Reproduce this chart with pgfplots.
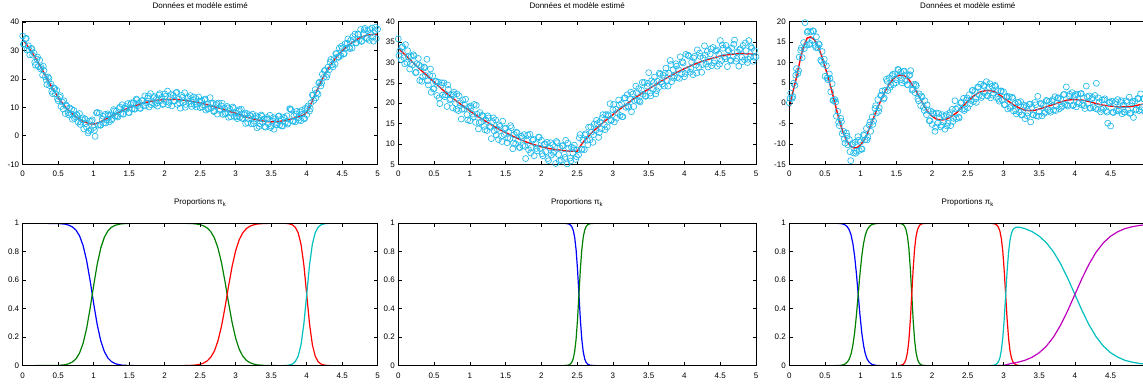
\documentclass[border=0pt]{standalone}
\usepackage{fontspec}
\setmainfont{Liberation Sans}
\usepackage{pgfplots}
\pgfplotsset{compat=1.18}
\definecolor{ptcyan}{RGB}{32,185,235}
\definecolor{mgreen}{RGB}{0,128,0}
\definecolor{mcyan}{RGB}{0,191,191}
\definecolor{mmag}{RGB}{191,0,191}
\pgfplotsset{
  mpanel/.style={scale only axis, height=142.5pt, xmin=0, xmax=5,
    xtick={0,0.5,1,1.5,2,2.5,3,3.5,4,4.5,5},
    tick align=inside, axis on top, major tick length=3.5pt,
    tick style={black, line width=0.6pt},
    axis line style={black, line width=0.8pt},
    ticklabel style={font=\fontsize{8}{9.6}\selectfont},
    xticklabel style={yshift=-3.5pt},
    /pgf/number format/assume math mode=true,
    title style={font=\fontsize{8}{9.6}\selectfont, anchor=base, at={(0.5,1)}},
  },
  datapanel/.style={mpanel, clip=false, title={Données et modèle estimé}, title style={yshift=7.7pt}},
  proppanel/.style={mpanel, ymin=0, ymax=1, ytick={0,0.2,0.4,0.6,0.8,1}, title={Proportions π\textsubscript{k}}, title style={yshift=12.6pt}},
  circ/.style={only marks, mark=o, mark size=3pt, color=ptcyan, mark options={line width=0.65pt}},
  fit/.style={red, line width=1.4pt, no marks},
  pc/.style={line width=1.2pt, no marks},
}
\begin{document}
\begin{tikzpicture}
\path[use as bounding box] (0,0) rectangle (1143pt,383pt);
% ---------------- top left
\begin{axis}[datapanel, at={(22.7pt,218.7pt)}, anchor=south west, width=355pt, ymin=-10, ymax=40, ytick={-10,0,10,20,30,40}]
\addplot[circ] table[row sep=\\] {x y\\
0 35.0\\ 0.02 32.3\\ 0.04 34.1\\ 0.06 30.1\\ 0.08 31.6\\ 0.10 28.4\\ 0.12 30.7\\ 0.14 28.3\\ 0.16 29.0\\ 0.18 24.8\\ 0.20 26.9\\ 0.22 24.3\\ 0.24 26.5\\ 0.26 24.0\\ 0.28 21.3\\ 0.30 22.9\\ 0.32 20.7\\ 0.34 18.0\\ 0.36 20.6\\ 0.38 17.6\\ 0.40 18.1\\ 0.42 14.8\\ 0.44 16.8\\ 0.46 14.7\\ 0.48 16.0\\ 0.50 12.3\\ 0.52 13.6\\ 0.54 10.3\\ 0.56 11.8\\ 0.58 12.3\\ 0.60 7.8\\ 0.62 10.4\\ 0.64 8.1\\ 0.66 9.8\\ 0.68 7.7\\ 0.70 5.8\\ 0.72 8.9\\ 0.74 6.7\\ 0.76 7.5\\ 0.78 4.8\\ 0.80 7.8\\ 0.82 4.8\\ 0.84 5.6\\ 0.86 2.4\\ 0.88 5.9\\ 0.90 3.0\\ 0.92 1.0\\ 0.94 5.2\\ 0.96 2.1\\ 0.98 5.6\\ 1.00 2.9\\ 1.02 -0.2\\ 1.04 8.0\\ 1.06 3.7\\ 1.08 7.9\\ 1.10 3.7\\ 1.12 5.8\\ 1.14 4.5\\ 1.16 7.5\\ 1.18 5.5\\ 1.20 7.7\\ 1.22 4.9\\ 1.24 7.1\\ 1.26 6.0\\ 1.28 9.2\\ 1.30 7.0\\ 1.32 8.6\\ 1.34 6.6\\ 1.36 9.6\\ 1.38 7.7\\ 1.40 10.9\\ 1.42 7.6\\ 1.44 9.7\\ 1.46 9.3\\ 1.48 11.3\\ 1.50 8.1\\ 1.52 11.0\\ 1.54 9.5\\ 1.56 11.6\\ 1.58 9.3\\ 1.60 12.9\\ 1.62 10.5\\ 1.64 11.7\\ 1.66 9.6\\ 1.68 12.3\\ 1.70 10.6\\ 1.72 14.0\\ 1.74 11.6\\ 1.76 13.3\\ 1.78 10.1\\ 1.80 14.8\\ 1.82 11.6\\ 1.84 13.4\\ 1.86 11.0\\ 1.88 12.8\\ 1.90 10.4\\ 1.92 14.3\\ 1.94 12.3\\ 1.96 13.5\\ 1.98 11.2\\ 2.00 14.7\\ 2.02 11.9\\ 2.04 15.7\\ 2.06 11.7\\ 2.08 13.4\\ 2.10 10.5\\ 2.12 14.2\\ 2.14 12.3\\ 2.16 15.1\\ 2.18 11.0\\ 2.20 12.9\\ 2.22 9.7\\ 2.24 14.2\\ 2.26 11.7\\ 2.28 15.1\\ 2.30 11.0\\ 2.32 13.1\\ 2.34 12.1\\ 2.36 14.1\\ 2.38 10.3\\ 2.40 12.5\\ 2.42 10.9\\ 2.44 13.1\\ 2.46 11.1\\ 2.48 13.6\\ 2.50 9.9\\ 2.52 12.3\\ 2.54 10.9\\ 2.56 12.6\\ 2.58 9.0\\ 2.60 11.2\\ 2.62 9.6\\ 2.64 13.4\\ 2.66 9.8\\ 2.68 11.4\\ 2.70 8.7\\ 2.72 10.7\\ 2.74 7.6\\ 2.76 11.5\\ 2.78 9.4\\ 2.80 10.5\\ 2.82 7.5\\ 2.84 9.6\\ 2.86 8.1\\ 2.88 10.3\\ 2.90 6.5\\ 2.92 9.3\\ 2.94 7.9\\ 2.96 10.1\\ 2.98 6.8\\ 3.00 8.1\\ 3.02 6.0\\ 3.04 8.7\\ 3.06 6.6\\ 3.08 9.3\\ 3.10 6.0\\ 3.12 7.4\\ 3.14 4.3\\ 3.16 7.8\\ 3.18 6.1\\ 3.20 7.1\\ 3.22 4.2\\ 3.24 7.6\\ 3.26 5.1\\ 3.28 6.1\\ 3.30 2.8\\ 3.32 6.5\\ 3.34 4.2\\ 3.36 7.3\\ 3.38 4.7\\ 3.40 5.9\\ 3.42 3.0\\ 3.44 6.4\\ 3.46 4.1\\ 3.48 7.2\\ 3.50 3.4\\ 3.52 5.2\\ 3.54 2.3\\ 3.56 6.0\\ 3.58 4.6\\ 3.60 6.8\\ 3.62 3.8\\ 3.64 5.8\\ 3.66 3.4\\ 3.68 6.5\\ 3.70 4.8\\ 3.72 7.0\\ 3.74 4.5\\ 3.76 9.5\\ 3.78 9.1\\ 3.80 5.2\\ 3.82 7.1\\ 3.84 4.9\\ 3.86 8.6\\ 3.88 6.3\\ 3.90 8.4\\ 3.92 5.3\\ 3.94 7.6\\ 3.96 6.2\\ 3.98 9.6\\ 4.00 7.4\\ 4.02 10.5\\ 4.04 8.7\\ 4.06 11.6\\ 4.08 14.3\\ 4.10 12.4\\ 4.12 16.2\\ 4.14 15.1\\ 4.16 14.6\\ 4.18 18.8\\ 4.20 17.5\\ 4.22 21.6\\ 4.24 20.5\\ 4.26 22.9\\ 4.28 20.6\\ 4.30 24.1\\ 4.32 23.2\\ 4.34 26.8\\ 4.36 24.9\\ 4.38 26.7\\ 4.40 25.2\\ 4.42 28.9\\ 4.44 27.7\\ 4.46 30.8\\ 4.48 28.1\\ 4.50 30.6\\ 4.52 28.7\\ 4.54 32.3\\ 4.56 30.8\\ 4.58 34.0\\ 4.60 31.1\\ 4.62 33.5\\ 4.64 30.8\\ 4.66 33.7\\ 4.68 35.7\\ 4.70 32.6\\ 4.72 35.7\\ 4.74 33.7\\ 4.76 37.3\\ 4.78 33.3\\ 4.80 35.8\\ 4.82 37.7\\ 4.84 34.4\\ 4.86 36.9\\ 4.88 33.5\\ 4.90 36.0\\ 4.92 37.8\\ 4.94 33.2\\ 4.96 36.9\\ 4.98 34.1\\ 5.00 37.4\\
};
\addplot[circ] table[row sep=\\] {x y\\
0.01 32.1\\ 0.05 34.2\\ 0.09 30.2\\ 0.13 30.5\\ 0.17 25.8\\ 0.21 27.6\\ 0.25 23.5\\ 0.29 24.4\\ 0.33 19.6\\ 0.37 20.1\\ 0.41 15.6\\ 0.45 16.5\\ 0.49 13.0\\ 0.53 14.1\\ 0.57 9.4\\ 0.61 10.9\\ 0.65 7.3\\ 0.69 9.3\\ 0.73 6.1\\ 0.77 7.1\\ 0.81 4.0\\ 0.85 6.3\\ 0.89 4.3\\ 0.93 1.7\\ 0.97 5.1\\ 1.01 1.9\\ 1.05 8.2\\ 1.09 3.8\\ 1.13 6.9\\ 1.17 4.5\\ 1.21 7.2\\ 1.25 5.5\\ 1.29 8.7\\ 1.33 7.0\\ 1.37 10.1\\ 1.41 7.6\\ 1.45 10.3\\ 1.49 8.2\\ 1.53 11.6\\ 1.57 9.5\\ 1.61 12.6\\ 1.65 9.7\\ 1.69 12.4\\ 1.73 10.5\\ 1.77 14.0\\ 1.81 10.9\\ 1.85 13.8\\ 1.89 11.5\\ 1.93 14.8\\ 1.97 11.0\\ 2.01 13.8\\ 2.05 10.9\\ 2.09 14.5\\ 2.13 12.1\\ 2.17 15.3\\ 2.21 11.4\\ 2.25 13.5\\ 2.29 10.0\\ 2.33 13.5\\ 2.37 11.2\\ 2.41 13.6\\ 2.45 10.1\\ 2.49 12.2\\ 2.53 10.1\\ 2.57 12.9\\ 2.61 9.4\\ 2.65 11.4\\ 2.69 8.5\\ 2.73 11.3\\ 2.77 8.9\\ 2.81 11.4\\ 2.85 7.6\\ 2.89 9.8\\ 2.93 6.7\\ 2.97 9.6\\ 3.01 6.6\\ 3.05 9.2\\ 3.09 6.2\\ 3.13 8.0\\ 3.17 4.6\\ 3.21 7.1\\ 3.25 4.3\\ 3.29 7.0\\ 3.33 3.3\\ 3.37 6.9\\ 3.41 3.3\\ 3.45 5.9\\ 3.49 2.9\\ 3.53 6.4\\ 3.57 3.8\\ 3.61 7.0\\ 3.65 3.5\\ 3.69 6.1\\ 3.73 4.1\\ 3.77 9.4\\ 3.81 5.1\\ 3.85 7.7\\ 3.89 5.5\\ 3.93 8.9\\ 3.97 6.0\\ 4.01 9.8\\ 4.05 9.5\\ 4.09 14.3\\ 4.13 13.3\\ 4.17 18.5\\ 4.21 18.5\\ 4.25 22.9\\ 4.29 21.6\\ 4.33 25.9\\ 4.37 24.2\\ 4.41 28.8\\ 4.45 27.5\\ 4.49 31.4\\ 4.53 28.9\\ 4.57 32.5\\ 4.61 30.6\\ 4.65 34.8\\ 4.69 32.6\\ 4.73 35.6\\ 4.77 33.1\\ 4.81 37.2\\ 4.85 34.1\\ 4.89 37.3\\ 4.93 34.7\\ 4.97 38.1\\
};
\addplot[fit] coordinates {(0,33.8)(0.05,32.2)(0.1,30.4)(0.15,28.5)(0.2,26.5)(0.25,24.3)(0.3,22.0)(0.35,19.7)(0.4,17.5)(0.45,15.4)(0.5,13.5)(0.55,11.8)(0.6,10.2)(0.65,8.9)(0.7,7.7)(0.75,6.7)(0.8,5.8)(0.85,5.1)(0.9,4.6)(0.95,4.2)(1.0,4.1)(1.05,4.4)(1.1,5.0)(1.15,5.6)(1.2,6.3)(1.3,7.6)(1.4,8.8)(1.5,9.9)(1.6,10.7)(1.7,11.5)(1.8,12.1)(1.9,12.5)(2.0,12.7)(2.1,12.8)(2.2,12.7)(2.3,12.4)(2.4,12.0)(2.5,11.5)(2.6,10.9)(2.7,10.2)(2.8,9.5)(2.9,8.7)(3.0,7.9)(3.1,7.0)(3.2,6.2)(3.3,5.6)(3.4,5.1)(3.5,4.9)(3.6,5.0)(3.7,5.4)(3.8,6.0)(3.9,6.8)(3.96,7.4)(4.0,8.3)(4.05,10.7)(4.1,13.5)(4.15,16.2)(4.2,18.9)(4.25,21.3)(4.3,23.4)(4.35,25.3)(4.4,27.0)(4.45,28.5)(4.5,29.8)(4.55,31.0)(4.6,32.0)(4.65,32.9)(4.7,33.7)(4.75,34.4)(4.8,34.9)(4.85,35.3)(4.9,35.5)(4.95,35.6)(5.0,35.6)};
\end{axis}
% ---------------- top middle
\begin{axis}[datapanel, at={(398.3pt,218.7pt)}, anchor=south west, width=357.7pt, ymin=5, ymax=40, ytick={5,10,15,20,25,30,35,40}]
\addplot[circ] table[row sep=\\] {x y\\
0.00 35.8\\ 0.02 32.8\\ 0.04 30.7\\ 0.06 33.9\\ 0.08 31.2\\ 0.10 34.4\\ 0.12 30.0\\ 0.14 31.4\\ 0.16 28.4\\ 0.18 31.5\\ 0.20 29.4\\ 0.22 31.6\\ 0.24 27.5\\ 0.26 29.7\\ 0.28 31.0\\ 0.30 25.6\\ 0.32 29.0\\ 0.34 26.5\\ 0.36 28.9\\ 0.38 26.8\\ 0.40 30.8\\ 0.42 24.5\\ 0.44 26.8\\ 0.46 22.7\\ 0.48 26.7\\ 0.50 23.6\\ 0.52 25.3\\ 0.54 21.9\\ 0.56 25.2\\ 0.58 19.9\\ 0.60 24.4\\ 0.62 22.0\\ 0.64 25.0\\ 0.66 22.1\\ 0.68 19.2\\ 0.70 23.4\\ 0.72 20.8\\ 0.74 22.0\\ 0.76 18.9\\ 0.78 22.7\\ 0.80 19.9\\ 0.82 22.3\\ 0.84 18.2\\ 0.86 20.1\\ 0.88 16.1\\ 0.90 20.8\\ 0.92 18.6\\ 0.94 21.0\\ 0.96 17.2\\ 0.98 19.0\\ 1.00 15.7\\ 1.02 18.9\\ 1.04 17.3\\ 1.06 19.7\\ 1.08 15.3\\ 1.10 17.3\\ 1.12 13.7\\ 1.14 17.7\\ 1.16 15.4\\ 1.18 16.9\\ 1.20 14.3\\ 1.22 15.9\\ 1.24 13.3\\ 1.26 16.4\\ 1.28 14.3\\ 1.30 11.3\\ 1.32 15.5\\ 1.34 13.2\\ 1.36 15.9\\ 1.38 13.7\\ 1.40 11.1\\ 1.42 14.3\\ 1.44 11.9\\ 1.46 15.6\\ 1.48 12.3\\ 1.50 13.9\\ 1.52 10.3\\ 1.54 12.9\\ 1.56 11.3\\ 1.58 14.0\\ 1.60 8.8\\ 1.62 12.3\\ 1.64 10.0\\ 1.66 12.7\\ 1.68 10.9\\ 1.70 9.1\\ 1.72 11.9\\ 1.74 9.6\\ 1.76 12.3\\ 1.78 6.4\\ 1.80 10.7\\ 1.82 8.6\\ 1.84 12.4\\ 1.86 9.1\\ 1.88 10.9\\ 1.90 7.1\\ 1.92 10.1\\ 1.94 8.3\\ 1.96 11.7\\ 1.98 8.9\\ 2.00 10.9\\ 2.02 7.1\\ 2.04 9.9\\ 2.06 8.1\\ 2.08 10.4\\ 2.10 5.9\\ 2.12 9.0\\ 2.14 7.3\\ 2.16 9.8\\ 2.18 8.1\\ 2.20 5.2\\ 2.22 10.3\\ 2.24 7.4\\ 2.26 9.0\\ 2.28 6.0\\ 2.30 9.6\\ 2.32 7.5\\ 2.34 10.9\\ 2.36 5.1\\ 2.38 8.9\\ 2.40 6.5\\ 2.42 9.2\\ 2.44 7.8\\ 2.46 9.7\\ 2.48 6.2\\ 2.50 8.5\\ 2.52 7.3\\ 2.54 12.3\\ 2.56 8.7\\ 2.58 10.9\\ 2.60 8.6\\ 2.62 12.5\\ 2.64 10.9\\ 2.66 14.1\\ 2.68 11.0\\ 2.70 12.9\\ 2.72 10.4\\ 2.74 14.9\\ 2.76 13.3\\ 2.78 15.0\\ 2.80 11.6\\ 2.82 15.4\\ 2.84 13.7\\ 2.86 17.2\\ 2.88 14.7\\ 2.90 17.2\\ 2.92 14.2\\ 2.94 16.9\\ 2.96 19.9\\ 2.98 15.9\\ 3.00 18.4\\ 3.02 15.4\\ 3.04 18.5\\ 3.06 17.7\\ 3.08 20.8\\ 3.10 17.0\\ 3.12 19.9\\ 3.14 16.7\\ 3.16 21.3\\ 3.18 19.0\\ 3.20 22.1\\ 3.22 19.0\\ 3.24 21.0\\ 3.26 17.9\\ 3.28 22.3\\ 3.30 20.7\\ 3.32 24.2\\ 3.34 20.7\\ 3.36 23.6\\ 3.38 20.3\\ 3.40 23.2\\ 3.42 22.2\\ 3.44 25.1\\ 3.46 21.7\\ 3.48 24.2\\ 3.50 27.5\\ 3.52 22.5\\ 3.54 25.5\\ 3.56 23.4\\ 3.58 26.4\\ 3.60 22.3\\ 3.62 25.4\\ 3.64 23.9\\ 3.66 27.1\\ 3.68 25.3\\ 3.70 26.9\\ 3.72 24.2\\ 3.74 28.6\\ 3.76 25.6\\ 3.78 27.4\\ 3.80 30.5\\ 3.82 25.3\\ 3.84 28.2\\ 3.86 26.7\\ 3.88 29.7\\ 3.90 26.3\\ 3.92 28.2\\ 3.94 31.4\\ 3.96 27.2\\ 3.98 29.9\\ 4.00 26.5\\ 4.02 32.0\\ 4.04 28.2\\ 4.06 31.6\\ 4.08 27.6\\ 4.10 30.1\\ 4.12 27.0\\ 4.14 31.5\\ 4.16 29.4\\ 4.18 33.1\\ 4.20 28.9\\ 4.22 31.5\\ 4.24 27.6\\ 4.26 31.1\\ 4.28 34.1\\ 4.30 29.6\\ 4.32 32.7\\ 4.34 30.3\\ 4.36 32.1\\ 4.38 29.2\\ 4.40 33.7\\ 4.42 30.5\\ 4.44 32.8\\ 4.46 29.1\\ 4.48 32.1\\ 4.50 35.4\\ 4.52 30.5\\ 4.54 33.5\\ 4.56 31.4\\ 4.58 34.2\\ 4.60 29.0\\ 4.62 32.9\\ 4.64 30.6\\ 4.66 33.6\\ 4.68 31.5\\ 4.70 35.5\\ 4.72 30.3\\ 4.74 32.6\\ 4.76 29.1\\ 4.78 33.4\\ 4.80 31.3\\ 4.82 34.2\\ 4.84 30.7\\ 4.86 32.9\\ 4.88 30.0\\ 4.90 35.4\\ 4.92 31.3\\ 4.94 33.5\\ 4.96 30.3\\ 4.98 32.9\\ 5.00 31.4\\
};
\addplot[circ] table[row sep=\\] {x y\\
0.01 31.7\\ 0.05 33.7\\ 0.09 29.7\\ 0.13 32.9\\ 0.17 29.7\\ 0.21 31.9\\ 0.25 27.6\\ 0.29 29.4\\ 0.33 25.4\\ 0.37 28.7\\ 0.41 25.5\\ 0.45 28.4\\ 0.49 23.5\\ 0.53 25.4\\ 0.57 21.3\\ 0.61 25.0\\ 0.65 21.6\\ 0.69 24.5\\ 0.73 21.1\\ 0.77 22.1\\ 0.81 18.5\\ 0.85 21.8\\ 0.89 18.5\\ 0.93 19.5\\ 0.97 15.9\\ 1.01 19.3\\ 1.05 16.7\\ 1.09 19.5\\ 1.13 15.2\\ 1.17 17.0\\ 1.21 13.5\\ 1.25 16.9\\ 1.29 14.1\\ 1.33 16.4\\ 1.37 12.2\\ 1.41 14.7\\ 1.45 10.6\\ 1.49 13.7\\ 1.53 11.5\\ 1.57 14.5\\ 1.61 10.2\\ 1.65 12.9\\ 1.69 9.2\\ 1.73 11.5\\ 1.77 9.4\\ 1.81 12.2\\ 1.85 7.8\\ 1.89 11.1\\ 1.93 8.9\\ 1.97 11.6\\ 2.01 7.6\\ 2.05 10.0\\ 2.09 6.4\\ 2.13 10.3\\ 2.17 7.7\\ 2.21 10.6\\ 2.25 5.8\\ 2.29 9.5\\ 2.33 6.7\\ 2.37 10.2\\ 2.41 5.8\\ 2.45 8.9\\ 2.49 6.9\\ 2.53 11.5\\ 2.57 8.7\\ 2.61 12.2\\ 2.65 9.8\\ 2.69 14.2\\ 2.73 12.3\\ 2.77 15.8\\ 2.81 12.8\\ 2.85 16.4\\ 2.89 13.5\\ 2.93 17.2\\ 2.97 15.7\\ 3.01 19.7\\ 3.05 16.3\\ 3.09 19.6\\ 3.13 16.7\\ 3.17 21.3\\ 3.21 19.3\\ 3.25 22.7\\ 3.29 19.2\\ 3.33 22.6\\ 3.37 20.6\\ 3.41 25.1\\ 3.45 21.8\\ 3.49 24.9\\ 3.53 21.8\\ 3.57 25.1\\ 3.61 23.1\\ 3.65 27.4\\ 3.69 24.7\\ 3.73 27.4\\ 3.77 24.2\\ 3.81 29.5\\ 3.85 26.2\\ 3.89 29.1\\ 3.93 26.1\\ 3.97 30.2\\ 4.01 27.3\\ 4.05 31.8\\ 4.09 28.5\\ 4.13 31.1\\ 4.17 27.4\\ 4.21 32.3\\ 4.25 29.5\\ 4.29 31.8\\ 4.33 28.9\\ 4.37 33.4\\ 4.41 29.9\\ 4.45 33.1\\ 4.49 29.6\\ 4.53 34.3\\ 4.57 30.9\\ 4.61 33.1\\ 4.65 30.4\\ 4.69 34.5\\ 4.73 31.0\\ 4.77 33.1\\ 4.81 30.2\\ 4.85 34.8\\ 4.89 30.8\\ 4.93 33.9\\ 4.97 31.3\\
};
\addplot[fit] coordinates {(0,33.5)(0.1,31.8)(0.2,30.1)(0.3,28.4)(0.4,26.8)(0.5,25.2)(0.6,23.6)(0.7,22.1)(0.8,20.7)(0.9,19.4)(1,18.1)(1.1,16.9)(1.2,15.8)(1.3,14.7)(1.4,13.7)(1.5,12.8)(1.6,11.9)(1.7,11.1)(1.8,10.4)(1.9,9.8)(2,9.3)(2.1,8.9)(2.2,8.6)(2.3,8.4)(2.4,8.2)(2.5,8.2)(2.55,9.6)(2.6,10.8)(2.7,12.7)(2.8,14.3)(2.9,15.8)(3,17.2)(3.1,18.6)(3.2,19.9)(3.3,21.2)(3.4,22.4)(3.5,23.5)(3.6,24.6)(3.7,25.7)(3.8,26.7)(3.9,27.6)(4,28.5)(4.1,29.3)(4.2,30.0)(4.3,30.6)(4.4,31.1)(4.5,31.6)(4.6,31.9)(4.7,32.1)(4.8,32.2)(4.9,32.1)(5,32.0)};
\end{axis}
% ---------------- top right
\begin{axis}[datapanel, at={(789.3pt,218.7pt)}, anchor=south west, width=357pt, ymin=-15, ymax=20, ytick={-15,-10,-5,0,5,10,15,20}]
\addplot[circ] table[row sep=\\] {x y\\
0.00 0.1\\ 0.02 2.5\\ 0.04 1.2\\ 0.06 4.9\\ 0.08 4.4\\ 0.10 8.5\\ 0.12 7.3\\ 0.14 11.3\\ 0.16 13.0\\ 0.18 11.2\\ 0.20 14.9\\ 0.22 19.8\\ 0.24 14.3\\ 0.26 17.7\\ 0.28 14.4\\ 0.30 17.5\\ 0.32 15.4\\ 0.34 17.7\\ 0.36 14.2\\ 0.38 16.3\\ 0.40 13.6\\ 0.42 14.4\\ 0.44 10.6\\ 0.46 12.7\\ 0.48 9.6\\ 0.50 6.6\\ 0.52 9.2\\ 0.54 5.8\\ 0.56 7.2\\ 0.58 2.8\\ 0.60 4.8\\ 0.62 0.7\\ 0.64 0.9\\ 0.66 -3.2\\ 0.68 -2.0\\ 0.70 -5.5\\ 0.72 -3.7\\ 0.74 -7.5\\ 0.76 -6.9\\ 0.78 -9.8\\ 0.80 -7.3\\ 0.82 -10.2\\ 0.84 -8.9\\ 0.86 -14.1\\ 0.88 -10.2\\ 0.90 -12.2\\ 0.92 -9.6\\ 0.94 -11.8\\ 0.96 -8.2\\ 0.98 -11.6\\ 1.00 -9.5\\ 1.02 -11.3\\ 1.04 -7.7\\ 1.06 -9.0\\ 1.08 -6.2\\ 1.10 -8.4\\ 1.12 -5.4\\ 1.14 -6.9\\ 1.16 -3.4\\ 1.18 -4.4\\ 1.20 -1.3\\ 1.22 -2.4\\ 1.24 0.9\\ 1.26 -1.1\\ 1.28 1.9\\ 1.30 3.0\\ 1.32 1.0\\ 1.34 3.2\\ 1.36 5.9\\ 1.38 3.1\\ 1.40 6.2\\ 1.42 4.5\\ 1.44 6.8\\ 1.46 4.6\\ 1.48 7.2\\ 1.50 5.8\\ 1.52 8.3\\ 1.54 6.6\\ 1.56 7.7\\ 1.58 5.0\\ 1.60 7.8\\ 1.62 5.4\\ 1.64 7.0\\ 1.66 4.5\\ 1.68 6.8\\ 1.70 8.0\\ 1.72 3.2\\ 1.74 4.6\\ 1.76 2.6\\ 1.78 4.3\\ 1.80 1.1\\ 1.82 2.3\\ 1.84 -0.6\\ 1.86 1.5\\ 1.88 -1.0\\ 1.90 0.6\\ 1.92 -2.8\\ 1.94 -1.7\\ 1.96 -4.3\\ 1.98 -1.9\\ 2.00 -5.2\\ 2.02 -2.6\\ 2.04 -6.9\\ 2.06 -2.4\\ 2.08 -4.9\\ 2.10 -3.5\\ 2.12 -5.8\\ 2.14 -2.8\\ 2.16 -4.6\\ 2.18 -6.4\\ 2.20 -2.8\\ 2.22 -4.9\\ 2.24 -2.9\\ 2.26 -5.5\\ 2.28 -1.5\\ 2.30 -3.7\\ 2.32 0.6\\ 2.34 -3.8\\ 2.36 -1.1\\ 2.38 -3.6\\ 2.40 0.1\\ 2.42 -1.5\\ 2.44 1.2\\ 2.46 -1.4\\ 2.48 0.7\\ 2.50 -1.1\\ 2.52 2.1\\ 2.54 0.7\\ 2.56 3.1\\ 2.58 0.4\\ 2.60 2.9\\ 2.62 0.2\\ 2.64 4.0\\ 2.66 2.0\\ 2.68 4.7\\ 2.70 1.8\\ 2.72 4.4\\ 2.74 2.6\\ 2.76 5.3\\ 2.78 1.8\\ 2.80 3.9\\ 2.82 1.3\\ 2.84 4.2\\ 2.86 2.5\\ 2.88 4.4\\ 2.90 1.4\\ 2.92 3.1\\ 2.94 0.5\\ 2.96 3.0\\ 2.98 0.8\\ 3.00 2.8\\ 3.02 -0.3\\ 3.04 1.4\\ 3.06 -1.4\\ 3.08 1.6\\ 3.10 -0.8\\ 3.12 1.5\\ 3.14 -1.9\\ 3.16 -0.1\\ 3.18 -2.6\\ 3.20 0.2\\ 3.22 -2.2\\ 3.24 0.4\\ 3.26 -2.8\\ 3.28 -1.0\\ 3.30 -3.8\\ 3.32 -0.7\\ 3.34 -2.4\\ 3.36 -0.3\\ 3.38 -4.6\\ 3.40 -1.0\\ 3.42 -2.9\\ 3.44 0.2\\ 3.46 -3.1\\ 3.48 1.7\\ 3.50 -2.1\\ 3.52 0.0\\ 3.54 -3.1\\ 3.56 -0.5\\ 3.58 -2.2\\ 3.60 0.7\\ 3.62 -1.6\\ 3.64 0.4\\ 3.66 -2.2\\ 3.68 0.5\\ 3.70 -1.7\\ 3.72 1.6\\ 3.74 -0.7\\ 3.76 1.3\\ 3.78 -1.4\\ 3.80 1.0\\ 3.82 -0.7\\ 3.84 2.1\\ 3.86 -0.3\\ 3.88 4.0\\ 3.90 -0.7\\ 3.92 1.8\\ 3.94 0.5\\ 3.96 2.6\\ 3.98 -0.4\\ 4.00 1.7\\ 4.02 -0.9\\ 4.04 2.2\\ 4.06 0.2\\ 4.08 2.3\\ 4.10 -0.4\\ 4.12 1.3\\ 4.14 -1.3\\ 4.16 4.2\\ 4.18 0.0\\ 4.20 1.8\\ 4.22 -1.2\\ 4.24 1.1\\ 4.26 -0.9\\ 4.28 1.9\\ 4.30 4.9\\ 4.32 -1.5\\ 4.34 0.3\\ 4.36 -2.1\\ 4.38 0.8\\ 4.40 -1.3\\ 4.42 1.1\\ 4.44 -1.8\\ 4.46 -4.9\\ 4.48 0.1\\ 4.50 -5.6\\ 4.52 0.5\\ 4.54 -2.3\\ 4.56 -0.1\\ 4.58 -1.8\\ 4.60 0.9\\ 4.62 -1.5\\ 4.64 0.2\\ 4.66 -2.6\\ 4.68 -0.4\\ 4.70 -2.2\\ 4.72 0.6\\ 4.74 -1.7\\ 4.76 1.5\\ 4.78 -2.4\\ 4.80 0.1\\ 4.82 -3.5\\ 4.84 0.5\\ 4.86 -1.5\\ 4.88 1.2\\ 4.90 -1.8\\ 4.92 2.3\\ 4.94 -1.0\\ 4.96 1.1\\ 4.98 -2.1\\ 5.00 0.5\\
};
\addplot[circ] table[row sep=\\] {x y\\
0.01 1.2\\ 0.05 1.6\\ 0.09 6.9\\ 0.13 8.0\\ 0.17 13.6\\ 0.21 13.4\\ 0.25 17.4\\ 0.29 14.7\\ 0.33 17.8\\ 0.37 13.7\\ 0.41 14.6\\ 0.45 10.3\\ 0.49 10.8\\ 0.53 6.2\\ 0.57 6.1\\ 0.61 0.7\\ 0.65 0.3\\ 0.69 -4.7\\ 0.73 -4.5\\ 0.77 -8.8\\ 0.81 -8.1\\ 0.85 -11.9\\ 0.89 -9.9\\ 0.93 -12.3\\ 0.97 -9.1\\ 1.01 -11.2\\ 1.05 -7.9\\ 1.09 -9.0\\ 1.13 -4.6\\ 1.17 -5.2\\ 1.21 -0.6\\ 1.25 -2.0\\ 1.29 2.0\\ 1.33 1.3\\ 1.37 5.4\\ 1.41 3.9\\ 1.45 7.1\\ 1.49 5.0\\ 1.53 8.2\\ 1.57 5.8\\ 1.61 7.9\\ 1.65 4.6\\ 1.69 7.0\\ 1.73 3.4\\ 1.77 4.6\\ 1.81 0.6\\ 1.85 1.8\\ 1.89 -1.8\\ 1.93 -0.4\\ 1.97 -4.3\\ 2.01 -2.3\\ 2.05 -5.9\\ 2.09 -2.5\\ 2.13 -5.4\\ 2.17 -3.2\\ 2.21 -5.6\\ 2.25 -2.3\\ 2.29 -4.5\\ 2.33 -1.4\\ 2.37 -3.4\\ 2.41 0.2\\ 2.45 -1.8\\ 2.49 1.3\\ 2.53 -0.2\\ 2.57 3.2\\ 2.61 1.1\\ 2.65 3.9\\ 2.69 1.4\\ 2.73 4.2\\ 2.77 1.9\\ 2.81 4.8\\ 2.85 2.0\\ 2.89 4.1\\ 2.93 1.0\\ 2.97 3.0\\ 3.01 -0.4\\ 3.05 1.7\\ 3.09 -1.1\\ 3.13 1.2\\ 3.17 -1.8\\ 3.21 0.2\\ 3.25 -2.9\\ 3.29 -0.5\\ 3.33 -3.1\\ 3.37 -0.2\\ 3.41 -2.8\\ 3.45 -0.4\\ 3.49 -3.2\\ 3.53 -0.2\\ 3.57 -2.5\\ 3.61 0.6\\ 3.65 -1.8\\ 3.69 0.9\\ 3.73 -1.8\\ 3.77 1.3\\ 3.81 -1.0\\ 3.85 2.2\\ 3.89 -0.4\\ 3.93 2.2\\ 3.97 -0.6\\ 4.01 2.1\\ 4.05 -0.1\\ 4.09 2.4\\ 4.13 -0.6\\ 4.17 1.6\\ 4.21 -1.2\\ 4.25 1.4\\ 4.29 -1.3\\ 4.33 1.3\\ 4.37 -1.5\\ 4.41 0.8\\ 4.45 -2.2\\ 4.49 0.3\\ 4.53 -2.2\\ 4.57 0.4\\ 4.61 -1.9\\ 4.65 0.6\\ 4.69 -2.2\\ 4.73 0.2\\ 4.77 -2.5\\ 4.81 0.5\\ 4.85 -1.7\\ 4.89 1.1\\ 4.93 -1.6\\ 4.97 1.0\\
};
\addplot[fit] coordinates {(0,-1.0)(0.05,2.8)(0.1,6.3)(0.15,10.5)(0.2,14.0)(0.25,16.0)(0.3,16.3)(0.35,15.6)(0.4,14.0)(0.45,11.8)(0.5,9.0)(0.55,5.9)(0.6,2.7)(0.65,-0.8)(0.7,-4.2)(0.75,-7.0)(0.8,-9.1)(0.85,-10.4)(0.9,-11.0)(0.95,-10.9)(1.0,-10.2)(1.05,-9.0)(1.1,-7.1)(1.15,-5.0)(1.2,-2.7)(1.25,-0.6)(1.3,1.4)(1.35,3.2)(1.4,4.7)(1.45,5.8)(1.5,6.6)(1.55,6.9)(1.6,6.8)(1.65,6.3)(1.7,5.2)(1.75,3.8)(1.8,2.2)(1.85,0.6)(1.9,-1.0)(1.95,-2.3)(2.0,-3.2)(2.05,-3.8)(2.1,-4.1)(2.15,-4.1)(2.2,-3.9)(2.25,-3.5)(2.3,-2.9)(2.35,-2.2)(2.4,-1.3)(2.45,-0.4)(2.5,0.5)(2.55,1.3)(2.6,2.0)(2.65,2.6)(2.7,2.9)(2.75,3.1)(2.8,3.1)(2.85,3.0)(2.9,2.6)(2.95,2.0)(3.0,1.3)(3.05,0.7)(3.1,0.1)(3.15,-0.5)(3.2,-1.0)(3.25,-1.4)(3.3,-1.7)(3.35,-1.8)(3.4,-1.8)(3.45,-1.7)(3.5,-1.4)(3.6,-0.9)(3.7,-0.3)(3.8,0.3)(3.9,0.8)(4.0,0.9)(4.1,0.8)(4.2,0.4)(4.3,-0.1)(4.4,-0.5)(4.5,-0.7)(4.6,-0.9)(4.7,-0.9)(4.8,-0.8)(4.9,-0.4)(5.0,-0.1)};
\end{axis}
% ---------------- bottom left
\begin{axis}[proppanel, at={(22.7pt,17.3pt)}, anchor=south west, width=355pt]
\addplot[pc, blue] coordinates {(0,1)(0.5,0.998)(0.6,0.993)(0.65,0.986)(0.7,0.974)(0.75,0.952)(0.8,0.912)(0.85,0.844)(0.9,0.739)(0.95,0.596)(1.0,0.435)(1.05,0.287)(1.1,0.174)(1.15,0.099)(1.2,0.054)(1.25,0.029)(1.3,0.015)(1.35,0.008)(1.4,0.004)(1.5,0.001)(1.7,0)(5,0)};
\addplot[pc, mgreen] coordinates {(0,0)(0.5,0.002)(0.6,0.007)(0.65,0.014)(0.7,0.026)(0.75,0.048)(0.8,0.088)(0.85,0.156)(0.9,0.261)(0.95,0.404)(1.0,0.565)(1.05,0.713)(1.1,0.826)(1.15,0.901)(1.2,0.946)(1.25,0.971)(1.3,0.985)(1.35,0.992)(1.4,0.996)(1.5,0.999)(2.2,1)(2.3,0.999)(2.4,0.997)(2.45,0.994)(2.5,0.990)(2.55,0.981)(2.6,0.966)(2.65,0.940)(2.7,0.897)(2.75,0.826)(2.8,0.723)(2.85,0.589)(2.9,0.440)(2.95,0.302)(3.0,0.192)(3.05,0.115)(3.1,0.067)(3.15,0.038)(3.2,0.021)(3.25,0.012)(3.3,0.006)(3.4,0.002)(3.5,0.001)(3.7,0)(5,0)};
\addplot[pc, red] coordinates {(0,0)(2.2,0)(2.3,0.001)(2.4,0.003)(2.45,0.006)(2.5,0.010)(2.55,0.019)(2.6,0.034)(2.65,0.060)(2.7,0.103)(2.75,0.174)(2.8,0.277)(2.85,0.411)(2.9,0.560)(2.95,0.698)(3.0,0.808)(3.05,0.885)(3.1,0.933)(3.15,0.962)(3.2,0.979)(3.25,0.988)(3.3,0.994)(3.4,0.998)(3.5,0.999)(3.6,1)(3.7,0.999)(3.75,0.996)(3.8,0.988)(3.84,0.971)(3.88,0.933)(3.92,0.853)(3.96,0.707)(4.0,0.5)(4.04,0.293)(4.08,0.147)(4.12,0.067)(4.16,0.029)(4.2,0.012)(4.25,0.004)(4.3,0.001)(4.4,0)(5,0)};
\addplot[pc, mcyan] coordinates {(0,0)(3.6,0)(3.7,0.001)(3.75,0.004)(3.8,0.012)(3.84,0.029)(3.88,0.067)(3.92,0.147)(3.96,0.293)(4.0,0.5)(4.04,0.707)(4.08,0.853)(4.12,0.933)(4.16,0.971)(4.2,0.988)(4.25,0.996)(4.3,0.999)(4.4,1)(5,1)};
\end{axis}
% ---------------- bottom middle
\begin{axis}[proppanel, at={(398.3pt,17.3pt)}, anchor=south west, width=357.7pt]
\addplot[pc, blue] coordinates {(0,1)(2.3,1)(2.325,0.999)(2.375,0.996)(2.405,0.988)(2.425,0.976)(2.445,0.951)(2.465,0.902)(2.485,0.815)(2.505,0.677)(2.525,0.5)(2.545,0.323)(2.565,0.185)(2.585,0.098)(2.605,0.049)(2.625,0.024)(2.645,0.012)(2.675,0.004)(2.725,0.001)(2.8,0)(5,0)};
\addplot[pc, mgreen] coordinates {(0,0)(2.3,0)(2.325,0.001)(2.375,0.004)(2.405,0.012)(2.425,0.024)(2.445,0.049)(2.465,0.098)(2.485,0.185)(2.505,0.323)(2.525,0.5)(2.545,0.677)(2.565,0.815)(2.585,0.902)(2.605,0.951)(2.625,0.976)(2.645,0.988)(2.675,0.996)(2.725,0.999)(2.8,1)(5,1)};
\end{axis}
% ---------------- bottom right
\begin{axis}[proppanel, at={(789.3pt,17.3pt)}, anchor=south west, width=357pt]
\addplot[pc, blue] coordinates {(0,1)(0.6,1)(0.665,0.999)(0.715,0.998)(0.765,0.992)(0.79,0.985)(0.815,0.973)(0.84,0.953)(0.865,0.917)(0.89,0.858)(0.915,0.769)(0.94,0.646)(0.965,0.5)(0.99,0.354)(1.015,0.231)(1.04,0.142)(1.065,0.083)(1.09,0.047)(1.115,0.027)(1.14,0.015)(1.165,0.008)(1.215,0.0025)(1.265,0.0007)(1.4,0)(5,0)};
\addplot[pc, mgreen] coordinates {(0,0)(0.6,0)(0.665,0.001)(0.715,0.002)(0.765,0.008)(0.79,0.015)(0.815,0.027)(0.84,0.047)(0.865,0.083)(0.89,0.142)(0.915,0.231)(0.94,0.354)(0.965,0.5)(0.99,0.646)(1.015,0.769)(1.04,0.858)(1.065,0.917)(1.09,0.953)(1.115,0.973)(1.14,0.985)(1.165,0.992)(1.215,0.9975)(1.265,0.9993)(1.4,1)(1.515,0.9995)(1.565,0.997)(1.595,0.990)(1.615,0.978)(1.635,0.954)(1.655,0.907)(1.675,0.821)(1.695,0.681)(1.715,0.5)(1.735,0.319)(1.755,0.179)(1.775,0.093)(1.795,0.046)(1.815,0.022)(1.835,0.010)(1.865,0.003)(1.915,0.0005)(2.0,0)(5,0)};
\addplot[pc, red] coordinates {(0,0)(1.5,0)(1.515,0.0005)(1.565,0.003)(1.595,0.010)(1.615,0.022)(1.635,0.046)(1.655,0.093)(1.675,0.179)(1.695,0.319)(1.715,0.5)(1.735,0.681)(1.755,0.821)(1.775,0.907)(1.795,0.954)(1.815,0.978)(1.835,0.990)(1.865,0.997)(1.915,0.9995)(2.0,1)(2.83,0.999)(2.88,0.995)(2.91,0.985)(2.93,0.971)(2.95,0.943)(2.97,0.891)(2.99,0.802)(3.01,0.668)(3.03,0.5)(3.05,0.332)(3.07,0.198)(3.09,0.109)(3.11,0.057)(3.13,0.029)(3.15,0.015)(3.18,0.005)(3.23,0.001)(3.3,0)(5,0)};
\addplot[pc, mcyan] coordinates {(0,0)(2.75,0)(2.83,0.001)(2.88,0.005)(2.91,0.015)(2.93,0.029)(2.95,0.056)(2.97,0.108)(2.99,0.196)(3.01,0.328)(3.03,0.494)(3.05,0.660)(3.07,0.791)(3.09,0.878)(3.11,0.927)(3.13,0.953)(3.15,0.964)(3.18,0.972)(3.23,0.971)(3.3,0.962)(3.4,0.941)(3.5,0.909)(3.6,0.863)(3.7,0.799)(3.8,0.715)(3.9,0.613)(4.0,0.5)(4.1,0.387)(4.2,0.285)(4.3,0.201)(4.4,0.137)(4.5,0.091)(4.6,0.060)(4.7,0.038)(4.8,0.025)(4.9,0.016)(5.0,0.010)};
\addplot[pc, mmag] coordinates {(0,0)(2.9,0.0001)(3.0,0.003)(3.03,0.0055)(3.05,0.008)(3.1,0.015)(3.2,0.024)(3.3,0.038)(3.4,0.059)(3.5,0.091)(3.6,0.137)(3.7,0.201)(3.8,0.285)(3.9,0.387)(4.0,0.5)(4.1,0.613)(4.2,0.715)(4.3,0.799)(4.4,0.863)(4.5,0.909)(4.6,0.940)(4.7,0.962)(4.8,0.975)(4.9,0.984)(5.0,0.990)};
\end{axis}
\end{tikzpicture}
\end{document}
